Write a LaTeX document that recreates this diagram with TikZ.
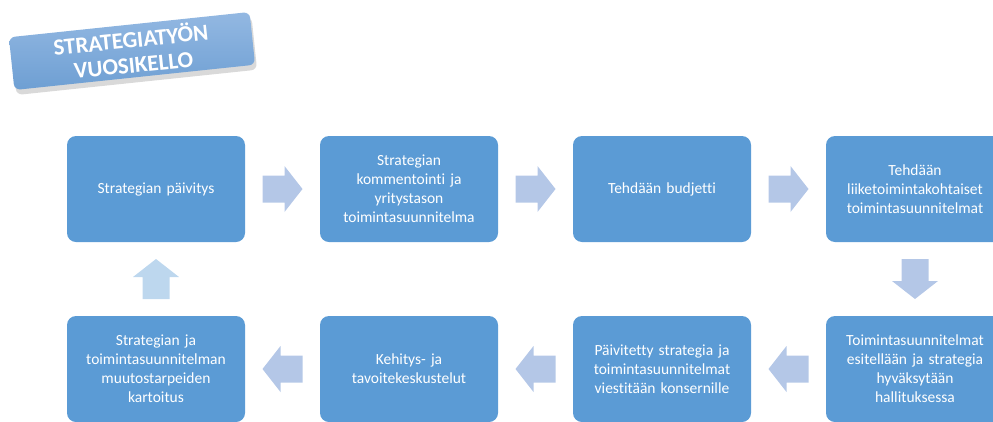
\documentclass[tikz,border=0pt]{standalone}
\usepackage{fontspec}
\setmainfont[Ligatures=NoCommon]{Carlito}
\usetikzlibrary{shadows,calc}
\definecolor{boxblue}{HTML}{5B9BD5}
\definecolor{arrblue}{HTML}{B4C7E7}
\definecolor{uparr}{HTML}{BDD7EE}
\definecolor{badgetop}{HTML}{93B8E2}
\definecolor{badgebot}{HTML}{6E9FD3}
\tikzset{
  stepbox/.style={rectangle, rounded corners=9pt, fill=boxblue, text=white,
    minimum width=178pt, minimum height=106pt, text width=170pt, align=center,
    font=\fontsize{15.5}{19}\selectfont, inner sep=0pt}
}
\newcommand\blockarr[3]{%
  \fill[#3, shift={(#1)}, rotate=#2]
    (-20,-13.5) -- (2,-13.5) -- (2,-23) -- (20,0) -- (2,23) -- (2,13.5) -- (-20,13.5) -- cycle;}
\begin{document}
\begin{tikzpicture}[x=1pt,y=-1pt]
\useasboundingbox (0,0) rectangle (993,421);
\clip (0,0) rectangle (993,421);
% title badge
\node[rectangle, rounded corners=6pt, top color=badgetop, bottom color=badgebot,
  minimum width=242pt, minimum height=53pt, rotate=6, text=white,
  font=\fontsize{23}{25}\selectfont\bfseries, align=center, inner sep=0pt,
  drop shadow={shadow xshift=2pt, shadow yshift=-5pt, opacity=0.3}]
  (title) at (132,51) {STRATEGIATYÖN\\VUOSIKELLO};
% top row
\node[stepbox] (b1) at (156,189) {Strategian päivitys};
\node[stepbox] (b2) at (409,189) {Strategian\\kommentointi ja\\yritystason\\toimintasuunnitelma};
\node[stepbox] (b3) at (662,189) {Tehdään budjetti};
\node[stepbox] (b4) at (915,189) {Tehdään\\liiketoimintakohtaiset\\toimintasuunnitelmat};
% bottom row
\node[stepbox] (b5) at (915,369) {Toimintasuunnitelmat\\esitellään ja strategia\\hyväksytään\\hallituksessa};
\node[stepbox] (b6) at (662,369) {Päivitetty strategia ja\\toimintasuunnitelmat\\viestitään konsernille};
\node[stepbox] (b7) at (409,369) {Kehitys- ja\\tavoitekeskustelut};
\node[stepbox] (b8) at (156,369) {Strategian ja\\toimintasuunnitelman\\muutostarpeiden\\kartoitus};
% arrow anchor points
\coordinate (a12) at ($(b1.east)!0.5!(b2.west)$);
\coordinate (a23) at ($(b2.east)!0.5!(b3.west)$);
\coordinate (a34) at ($(b3.east)!0.5!(b4.west)$);
\coordinate (a45) at ($(b4.south)!0.5!(b5.north)$);
\coordinate (a56) at ($(b5.west)!0.5!(b6.east)$);
\coordinate (a67) at ($(b6.west)!0.5!(b7.east)$);
\coordinate (a78) at ($(b7.west)!0.5!(b8.east)$);
\coordinate (a81) at ($(b8.north)!0.5!(b1.south)$);
\blockarr{a12}{0}{arrblue}
\blockarr{a23}{0}{arrblue}
\blockarr{a34}{0}{arrblue}
\blockarr{a45}{-90}{arrblue}
\blockarr{a56}{180}{arrblue}
\blockarr{a67}{180}{arrblue}
\blockarr{a78}{180}{arrblue}
\blockarr{a81}{90}{uparr}
\end{tikzpicture}
\end{document}
